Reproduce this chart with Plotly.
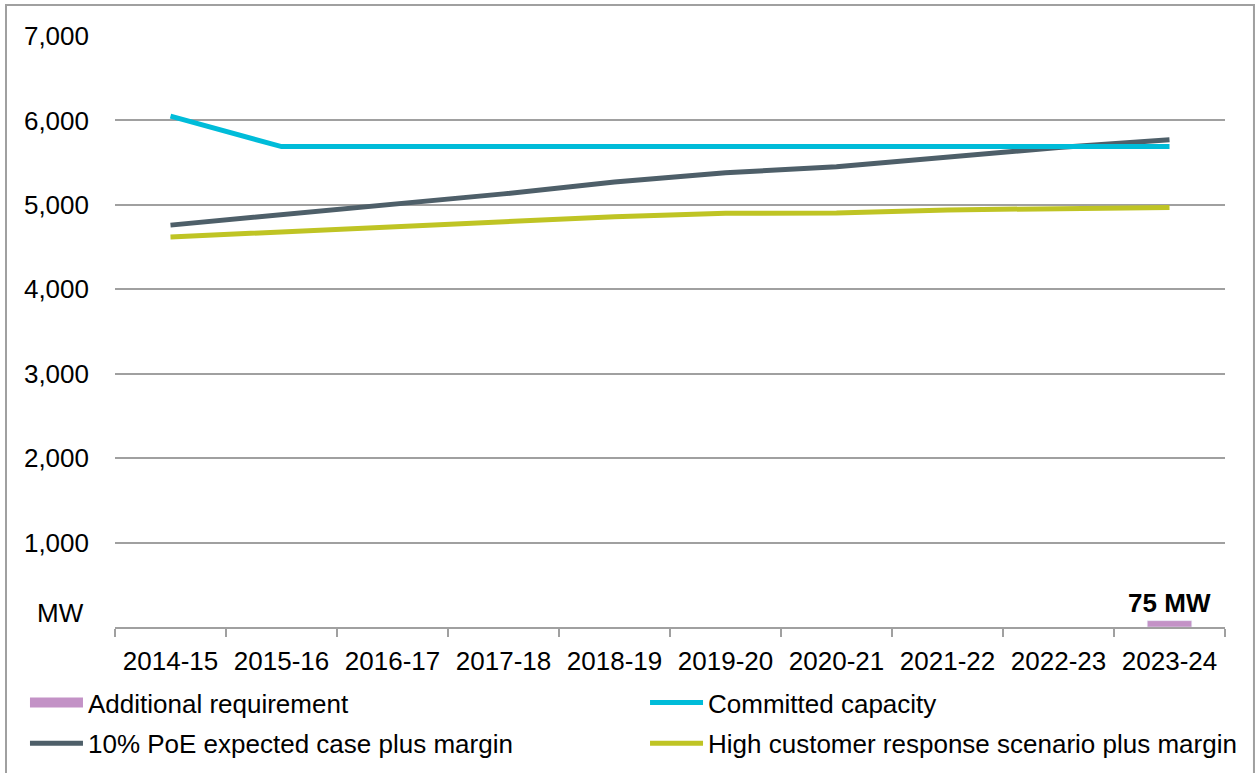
import plotly.graph_objects as go

years = ["2014-15", "2015-16", "2016-17", "2017-18", "2018-19",
         "2019-20", "2020-21", "2021-22", "2022-23", "2023-24"]
additional = [None, None, None, None, None, None, None, None, None, 75]
committed = [6050, 5690, 5690, 5690, 5690, 5690, 5690, 5690, 5690, 5690]
poe10 = [4760, 4880, 5000, 5130, 5270, 5380, 5450, 5570, 5680, 5770]
high_cust = [4620, 4680, 4740, 4800, 4860, 4900, 4905, 4940, 4950, 4970]
y_ticks = [1000, 2000, 3000, 4000, 5000, 6000, 7000]

FONT = "Liberation Sans, Arial, sans-serif"
PURPLE = "#C392C6"

fig = go.Figure()

# bar itself, legend entry done with a wide swatch below
fig.add_trace(go.Bar(
    x=years, y=additional, name="Additional requirement", showlegend=False,
    marker_color=PURPLE, width=0.4,
    text=[f"{v} MW" if v else "" for v in additional],
    textposition="outside", cliponaxis=False, constraintext="none",
    textfont=dict(family=FONT, size=26, color="black", weight="bold"),
))
fig.add_trace(go.Scatter(x=[None], y=[None], name="Additional requirement", mode="lines",
                         line=dict(color=PURPLE, width=14), legend="legend", legendgroup="a"))
fig.add_trace(go.Scatter(x=years, y=poe10, name="10% PoE expected case plus margin",
                         mode="lines", line=dict(color="#4E5F69", width=5),
                         legend="legend", legendgroup="b"))
fig.add_trace(go.Scatter(x=years, y=committed, name="Committed capacity",
                         mode="lines", line=dict(color="#00BCD9", width=5),
                         legend="legend2", legendgroup="c"))
fig.add_trace(go.Scatter(x=years, y=high_cust, name="High customer response scenario plus margin",
                         mode="lines", line=dict(color="#BFC424", width=5),
                         legend="legend2", legendgroup="d"))

# legends placed against the container height so they don't squeeze the plot
leg = dict(yref="container", y=0.1216, xanchor="left", yanchor="top",
           font=dict(size=26), itemwidth=53, tracegroupgap=4, bgcolor="rgba(0,0,0,0)")

fig.update_layout(
    width=1257, height=773,
    margin=dict(l=115, r=32, t=36, b=146),
    plot_bgcolor="white", paper_bgcolor="white",
    font=dict(family=FONT, size=26, color="black"),
    showlegend=True,
    legend=dict(leg, x=-0.0811),
    legend2=dict(leg, x=0.4775),
    bargap=0.6,
)
fig.update_xaxes(
    type="category", showgrid=False, showline=True, linecolor="#A0A0A0", linewidth=2,
    ticks="outside", tickson="boundaries", ticklen=8, tickcolor="#A0A0A0", tickwidth=2,
    tickfont=dict(size=26), ticklabelstandoff=10, automargin=False,
)
fig.update_yaxes(
    range=[0, 7000], tickvals=[0] + y_ticks, ticktext=[""] + [f"{v:,}" for v in y_ticks],
    showgrid=True, gridcolor="#A0A0A0", gridwidth=2, zeroline=False, showline=False,
    tickfont=dict(size=26), ticklabelstandoff=25, automargin=False,
)
fig.add_annotation(text="MW", xref="paper", yref="paper", x=-0.0495, y=0.024,
                   xanchor="center", yanchor="middle", showarrow=False,
                   font=dict(size=26))
# outer frame
fig.add_shape(type="rect", xref="paper", yref="paper",
              x0=-0.0982, x1=1.0261, y0=-0.3, y1=1.0525,
              line=dict(color="#A0A0A0", width=2), layer="below")

# drop the default 8px body margin so the figure fills the window
fig.write_html("out.html", config={"displayModeBar": False},
               post_script="document.body.style.margin='0';")
